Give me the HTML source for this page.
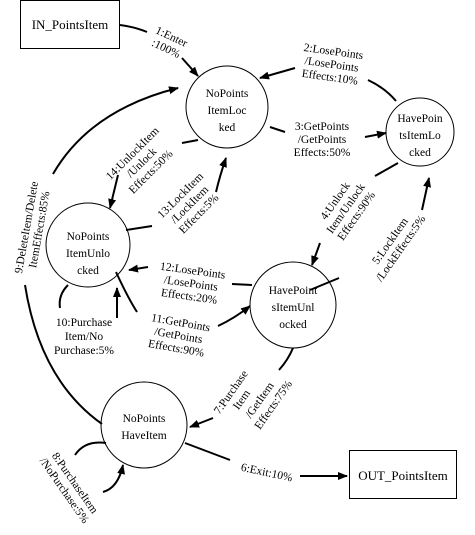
<!DOCTYPE html>
<html><head><meta charset="utf-8"><style>
html,body{margin:0;padding:0;background:#fff;}
svg{display:block;}
text{font-family:"Liberation Serif",serif;font-size:11.5px;fill:#000;}
.n{font-size:13px;}
</style></head><body>
<svg width="475" height="535" viewBox="0 0 475 535" xmlns="http://www.w3.org/2000/svg">
<defs><marker id="a" markerWidth="10" markerHeight="8" refX="9" refY="4" orient="auto" markerUnits="userSpaceOnUse"><path d="M0,0 L10,4 L0,8 z" fill="#000"/></marker></defs>
<g fill="none" stroke="#000" stroke-width="1">
<rect x="20.5" y="0.5" width="99" height="48"/>
<rect x="349.5" y="450.5" width="107" height="48"/>
<circle cx="227" cy="107" r="41"/>
<circle cx="420" cy="132" r="34"/>
<circle cx="88" cy="245" r="42"/>
<circle cx="293" cy="305" r="43"/>
<circle cx="144" cy="425" r="43"/>
</g>
<g fill="none" stroke="#000" stroke-width="2" marker-end="url(#a)">
<path d="M120,25 Q135,27 147,32" marker-end="none"/>
<path d="M182,58 L198,76" />
<path d="M295,68 L260,78"/>
<path d="M396,101 Q385,88 368,80" marker-end="none"/>
<path d="M270,127 L285,132" marker-end="none"/>
<path d="M365,137 L386,133"/>
<path d="M398,163 L375,176" marker-end="none"/>
<path d="M320,243 L312,265"/>
<path d="M422,210 L429,178"/>
<path d="M339,278 L310,290" marker-end="none"/>
<path d="M216,192 Q220,175 226,158"/>
<path d="M198,140 L182,143" marker-end="none"/>
<path d="M118,175 L110,208" />
<path d="M126,230 L152,226" marker-end="none"/>
<path d="M53,174 Q90,110 178,88"/>
<path d="M25,285 Q40,380 102,424" marker-end="none"/>
<path d="M148,267 L129,270"/>
<path d="M232,284 L252,285" marker-end="none"/>
<path d="M116,272 Q128,298 137,312" marker-end="none"/>
<path d="M218,326 Q235,318 250,306"/>
<path d="M68,285 Q58,295 60,308" marker-end="none"/>
<path d="M117,318 L117,288"/>
<path d="M293,348 Q288,360 279,370" marker-end="none"/>
<path d="M213,418 L190,427"/>
<path d="M185,443 L230,460" marker-end="none"/>
<path d="M300,476 L347,476"/>
<path d="M106,443 Q85,440 75,455" marker-end="none"/>
<path d="M103,492 Q118,488 123,465"/>
</g>
<text x="70" y="29" text-anchor="middle" class="n">IN_PointsItem</text>
<text x="403" y="480" text-anchor="middle" class="n">OUT_PointsItem</text>
<g text-anchor="middle" class="n">
<text x="227" y="97">NoPoints</text><text x="227" y="114">ItemLoc</text><text x="227" y="131">ked</text>
<text x="420" y="122">HavePoin</text><text x="420" y="139">tsItemLo</text><text x="420" y="156">cked</text>
<text x="88" y="240">NoPoints</text><text x="88" y="257">ItemUnlo</text><text x="88" y="274">cked</text>
<text x="293" y="294">HavePoint</text><text x="293" y="311">sItemUnl</text><text x="293" y="328">ocked</text>
<text x="144" y="422">NoPoints</text><text x="144" y="439">HaveItem</text>
</g>
<g text-anchor="middle">
<text transform="translate(170,40) rotate(25)"><tspan x="0" y="0">1:Enter</tspan><tspan x="0" y="13">:100%</tspan></text>
<text transform="translate(333,55) rotate(8)"><tspan x="0" y="0">2:LosePoints</tspan><tspan x="0" y="13">/LosePoints</tspan><tspan x="0" y="26">Effects:10%</tspan></text>
<text x="322" y="130"><tspan x="322">3:GetPoints</tspan><tspan x="322" dy="13">/GetPoints</tspan><tspan x="322" dy="13">Effects:50%</tspan></text>
<text transform="translate(338,203) rotate(-55)"><tspan x="0" y="0">4:Unlock</tspan><tspan x="0" y="13">Item/Unlock</tspan><tspan x="0" y="26">Effects:90%</tspan></text>
<text transform="translate(393,243) rotate(-55)"><tspan x="0" y="0">5:LockItem</tspan><tspan x="0" y="13">/LockEffects:5%</tspan></text>
<text transform="translate(266,476) rotate(12)">6:Exit:10%</text>
<text transform="translate(242,400) rotate(-55)"><tspan x="0" y="-10">7:Purchase</tspan><tspan x="0" y="3">Item</tspan><tspan x="10" y="18">/GetItem</tspan><tspan x="14" y="32">Effects:75%</tspan></text>
<text transform="translate(72,485) rotate(55)"><tspan x="0" y="0">8:PurchaseItem</tspan><tspan x="0" y="13">/NoPurchase:5%</tspan></text>
<text transform="translate(30,228) rotate(-80)"><tspan x="0" y="0">9:DeleteItem/Delete</tspan><tspan x="0" y="13">ItemEffects:85%</tspan></text>
<text x="84" y="326"><tspan x="84">10:Purchase</tspan><tspan x="84" dy="14">Item/No</tspan><tspan x="84" dy="14">Purchase:5%</tspan></text>
<text transform="translate(178,338) rotate(10)"><tspan x="0" y="-12">11:GetPoints</tspan><tspan x="0" y="1">/GetPoints</tspan><tspan x="0" y="14">Effects:90%</tspan></text>
<text transform="translate(190,290) rotate(8)"><tspan x="0" y="-16">12:LosePoints</tspan><tspan x="0" y="-3">/LosePoints</tspan><tspan x="0" y="10">Effects:20%</tspan></text>
<text transform="translate(190,205) rotate(-45)"><tspan x="0" y="-10">13:LockItem</tspan><tspan x="0" y="3">/LockItem</tspan><tspan x="0" y="16">Effects:5%</tspan></text>
<text transform="translate(142,163) rotate(-45)"><tspan x="0" y="-10">14:UnlockItem</tspan><tspan x="0" y="3">/Unlock</tspan><tspan x="0" y="16">Effects:50%</tspan></text>
</g>
</svg>
</body></html>
